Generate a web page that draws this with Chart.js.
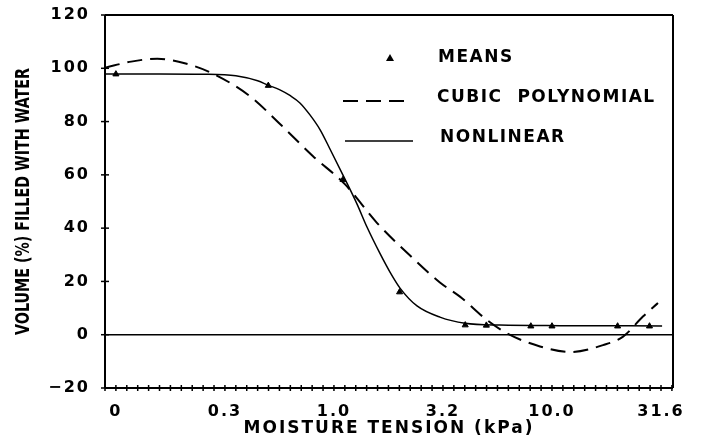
<!DOCTYPE html>
<html>
<head>
<meta charset="utf-8">
<script src="https://cdn.jsdelivr.net/npm/chart.js@4.4.1/dist/chart.umd.min.js"></script>
<style>
  html, body { margin: 0; padding: 0; background: #fff; }
  #chart { display: block; }
</style>
</head>
<body>
<canvas id="chart" width="703" height="439"></canvas>
<script>
// x axis is log10(kPa); the "0" kPa column sits at -1
var tensionKPa = [0, 0.5, 1.1, 2, 4, 5, 8, 10, 20, 28];
var meanVolume = [97.8, 93.5, 58.2, 16.0, 3.6, 3.5, 3.2, 3.2, 3.2, 3.2];

// fitted curves at log10(kPa) positions
var cubicLogX = [-1.05, -0.93, -0.81, -0.68, -0.555, -0.385, -0.24, -0.096, 0.05, 0.197,
                 0.349, 0.486, 0.578, 0.702, 0.794, 0.945, 1.083, 1.234, 1.326, 1.417, 1.486];
var cubicVolume = [100.2, 102.5, 103.6, 101.8, 98.0, 89.5, 78.5, 67.0, 56.5, 42.0,
                   29.7, 19.6, 14.3, 5.5, 0.5, -4.4, -6.5, -3.9, -0.7, 6.8, 11.9];

var nonlinLogX = [-1.05, -0.8, -0.6, -0.45, -0.35, -0.3, -0.25, -0.2, -0.156, -0.11,
                  -0.064, -0.02, 0.05, 0.106, 0.151, 0.211, 0.257, 0.303, 0.381, 0.486,
                  0.601, 0.761, 1.037, 1.505];
var nonlinVolume = [97.9, 97.9, 97.8, 97.2, 95.3, 93.6, 92.0, 89.7, 87.0, 82.5,
                    77.0, 70.0, 58.5, 49.0, 40.5, 30.5, 23.5, 17.5, 10.8, 6.6,
                    4.3, 3.6, 3.4, 3.3];

var xTickPos = [-1, -0.5, 0, 0.5, 1, 1.5];
var xTickLabels = ['0', '0.3', '1.0', '3.2', '10.0', '31.6'];
var yTicks = [-20, 0, 20, 40, 60, 80, 100, 120];

var yTitle = 'VOLUME (%) FILLED WITH WATER';

function toLogX(kpa) {
  return kpa === 0 ? -1 : Math.log10(kpa);
}

function pairs(xs, ys) {
  return xs.map(function (x, i) { return { x: x, y: ys[i] }; });
}

var FONT_WIDE = '"DejaVu Sans", sans-serif';

function line(ctx, x1, y1, x2, y2) {
  ctx.beginPath();
  ctx.moveTo(x1, y1);
  ctx.lineTo(x2, y2);
  ctx.stroke();
}

var framePlugin = {
  id: 'frameLegend',
  beforeDraw: function (chart) {
    chart.ctx.letterSpacing = '2px';
  },
  afterDraw: function (chart) {
    var ctx = chart.ctx;
    var a = chart.chartArea;
    var xs = chart.scales.x;
    var ys = chart.scales.y;
    ctx.save();
    ctx.letterSpacing = '0px';
    ctx.setLineDash([]);
    ctx.strokeStyle = '#000';
    ctx.fillStyle = '#000';

    // frame
    ctx.lineWidth = 2;
    line(ctx, a.left, a.top, a.right, a.top);
    line(ctx, a.right, a.top, a.right, a.bottom);
    line(ctx, a.left, a.bottom, a.right, a.bottom);
    line(ctx, a.left, a.top, a.left, a.bottom);

    // y tick crosses
    ctx.lineWidth = 1.5;
    yTicks.forEach(function (v) {
      var py = ys.getPixelForValue(v);
      line(ctx, a.left - 4, py, a.left + 4, py);
    });

    // x minor tick crosses every 0.05 log units
    for (var i = 0; i <= 52; i++) {
      var px = xs.getPixelForValue(-1.05 + i * 0.05);
      if (px > a.right + 0.5) break;
      line(ctx, px, a.bottom - 3, px, a.bottom + 3);
    }

    // y axis title, condensed
    ctx.save();
    ctx.font = 'bold 19px "Liberation Sans Narrow", "DejaVu Sans Condensed", sans-serif';
    ctx.textAlign = 'center';
    ctx.textBaseline = 'middle';
    var w = ctx.measureText(yTitle).width;
    var target = 267;
    ctx.translate(24, (a.top + a.bottom) / 2);
    ctx.rotate(-Math.PI / 2);
    if (w > target) ctx.scale(target / w, 1);
    ctx.fillText(yTitle, 0, 0);
    ctx.restore();

    // legend
    ctx.font = 'bold 17px ' + FONT_WIDE;
    ctx.letterSpacing = '1.5px';
    ctx.textBaseline = 'middle';
    ctx.textAlign = 'left';

    ctx.beginPath();
    ctx.moveTo(390, 54);
    ctx.lineTo(394, 61);
    ctx.lineTo(386, 61);
    ctx.closePath();
    ctx.fill();
    ctx.fillText('MEANS', 438, 58);

    ctx.lineWidth = 2;
    ctx.setLineDash([15, 8]);
    line(ctx, 343, 101, 408, 101);
    ctx.setLineDash([]);
    ctx.fillText('CUBIC  POLYNOMIAL', 437, 98);

    ctx.lineWidth = 1.5;
    line(ctx, 345, 141, 413, 141);
    ctx.fillText('NONLINEAR', 440, 138);

    ctx.restore();
  }
};

new Chart(document.getElementById('chart'), {
  type: 'scatter',
  data: {
    datasets: [
      {
        label: 'MEANS',
        data: pairs(tensionKPa.map(toLogX), meanVolume),
        showLine: false,
        pointStyle: 'triangle',
        pointRadius: 3.5,
        backgroundColor: '#000',
        borderColor: '#000',
        borderWidth: 1
      },
      {
        label: 'CUBIC POLYNOMIAL',
        data: pairs(cubicLogX, cubicVolume),
        showLine: true,
        pointRadius: 0,
        borderColor: '#000',
        borderWidth: 2,
        borderDash: [15, 8],
        cubicInterpolationMode: 'monotone'
      },
      {
        label: 'NONLINEAR',
        data: pairs(nonlinLogX, nonlinVolume),
        showLine: true,
        pointRadius: 0,
        borderColor: '#000',
        borderWidth: 1.5,
        cubicInterpolationMode: 'monotone'
      }
    ]
  },
  options: {
    responsive: false,
    animation: false,
    devicePixelRatio: 1,
    layout: { padding: { left: 0, right: 30, top: 15, bottom: 0 } },
    plugins: {
      legend: { display: false },
      tooltip: { enabled: false }
    },
    scales: {
      x: {
        type: 'linear',
        min: -1.05,
        max: 1.555,
        afterFit: function (scale) {
          scale.height = 51;
          scale.paddingLeft = 0;
          scale.paddingRight = 0;
        },
        afterBuildTicks: function (scale) {
          scale.ticks = xTickPos.map(function (v) { return { value: v }; });
        },
        ticks: {
          autoSkip: false,
          maxRotation: 0,
          padding: 14,
          color: '#000',
          font: { family: FONT_WIDE, size: 16, weight: 'bold' },
          callback: function (value) {
            var i = xTickPos.indexOf(value);
            return i >= 0 ? xTickLabels[i] : '';
          }
        },
        grid: { display: false, drawTicks: false },
        border: { display: false },
        title: {
          display: true,
          text: 'MOISTURE TENSION (kPa)',
          color: '#000',
          font: { family: FONT_WIDE, size: 17, weight: 'bold' },
          padding: { top: 0, bottom: 0 }
        }
      },
      y: {
        min: -20,
        max: 120,
        afterFit: function (scale) {
          scale.width = 105;
          scale.paddingTop = 0;
          scale.paddingBottom = 0;
        },
        afterBuildTicks: function (scale) {
          scale.ticks = yTicks.map(function (v) { return { value: v }; });
        },
        ticks: {
          padding: 15,
          color: '#000',
          font: { family: FONT_WIDE, size: 16, weight: 'bold' },
          callback: function (value) {
            return value < 0 ? '\u2212' + Math.abs(value) : String(value);
          }
        },
        grid: {
          drawTicks: false,
          lineWidth: 1.5,
          color: function (c) {
            return c.tick && c.tick.value === 0 ? '#000' : 'rgba(0,0,0,0)';
          }
        },
        border: { display: false },
        title: { display: false }
      }
    }
  },
  plugins: [framePlugin]
});
</script>
</body>
</html>
